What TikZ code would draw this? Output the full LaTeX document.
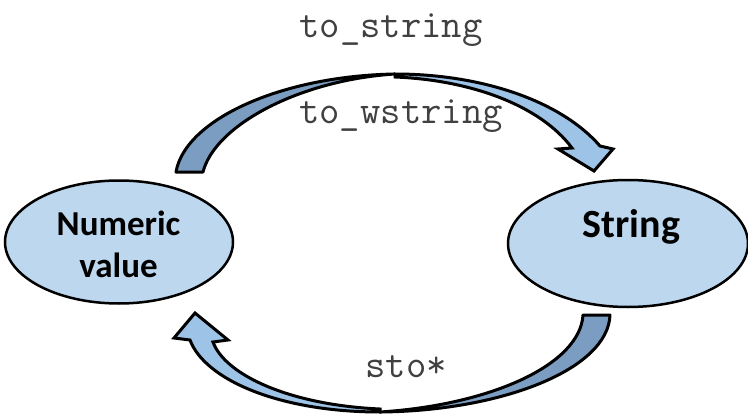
\documentclass[tikz,border=0pt]{standalone}
\usepackage{fontspec}
\setmainfont{Carlito}
\usetikzlibrary{shapes.geometric}
\definecolor{ellfill}{HTML}{BDD7EE}
\definecolor{arrlight}{HTML}{9DC3E6}
\definecolor{arrdark}{HTML}{7B9DC1}
\definecolor{labelgray}{HTML}{404040}
\tikzset{
  state/.style={ellipse, draw=black, line width=2.5pt, fill=ellfill, inner sep=0pt},
  statetext/.style={font=\fontsize{35}{42}\selectfont\bfseries, align=center, anchor=base, inner sep=0pt},
  fnlabel/.style={font=\ttfamily\fontsize{39.5}{46}\selectfont, text=labelgray, anchor=base, inner sep=0pt},
  darkpart/.style={fill=arrdark, draw=black, line width=3pt, line join=round},
  lightpart/.style={fill=arrlight, draw=black, line width=3pt, line join=miter},
}
\begin{document}
\begin{tikzpicture}[x=1pt, y=-1pt]
\useasboundingbox (0,0) rectangle (748,415);
% nodes
\node[state, minimum width=228pt, minimum height=123pt] (num) at (119,242) {};
\node[statetext] (numtext) at (118.5,277) {Numeric\\value};
\node[state, minimum width=240pt, minimum height=127pt] (str) at (628,243.5) {};
\node[statetext, font=\fontsize{40}{48}\selectfont\bfseries] (strtext) at (631.5,237) {String};
% top arrow: dark tail part
\path[darkpart] (176,172) .. controls (185,120) and (280,76) .. (395,74)
  .. controls (300,80) and (215,125) .. (203,172) -- cycle;
% top arrow: light head part
\path[lightpart] (395,74) .. controls (480,74) and (560,100) .. (600,146)
  -- (613,149) -- (594,171) -- (558,149) -- (572,148)
  .. controls (540,105) and (470,80) .. (395,77) -- cycle;
% bottom arrow: dark tail part
\path[darkpart] (610,315) .. controls (608,370) and (500,411) .. (380,412)
  .. controls (490,405) and (580,365) .. (583,315) -- cycle;
% bottom arrow: light head part
\path[lightpart] (380,412) .. controls (280,412) and (205,380) .. (190,340)
  -- (174,338) -- (195,313) -- (228,340) -- (213,342)
  .. controls (225,375) and (290,405) .. (380,409) -- cycle;
% labels
\node[fnlabel] (ts) at (391,37) {to\_string};
\node[fnlabel] (tws) at (401,123) {to\_wstring};
\node[fnlabel] (sto) at (406,377) {sto*};
\end{tikzpicture}
\end{document}
